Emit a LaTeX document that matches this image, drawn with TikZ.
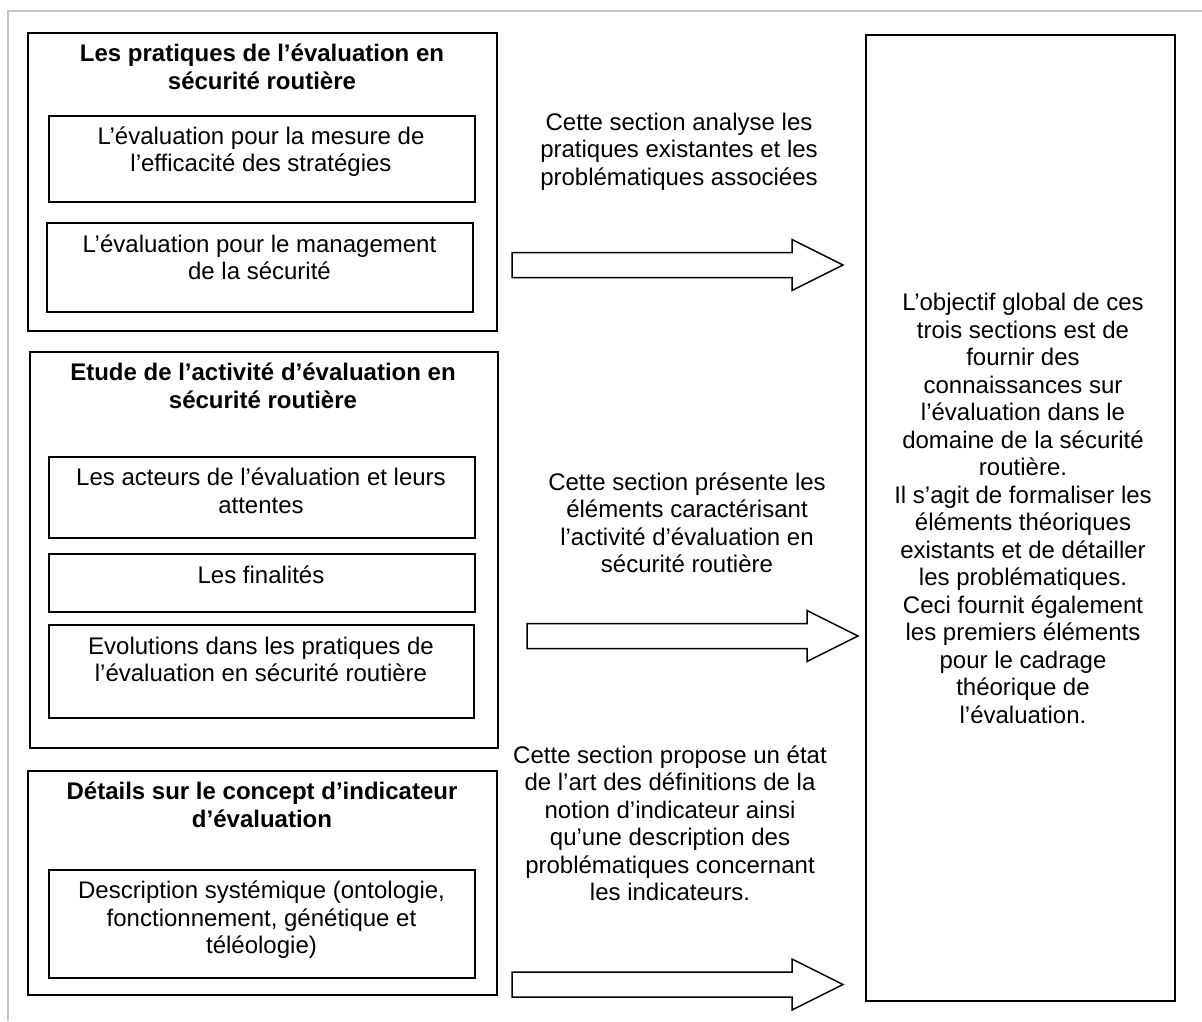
\documentclass[tikz,border=0pt]{standalone}
\usepackage{fontspec}
\setmainfont{Liberation Sans}
\usetikzlibrary{calc}
\begin{document}
\begin{tikzpicture}[x=1pt,y=-1pt,
  frame/.style={draw=black!22, line width=2pt},
  outerbox/.style={draw, line width=2pt, inner sep=0pt, anchor=north west},
  innerbox/.style={draw, line width=1.6pt, inner sep=0pt, anchor=north west},
  txt/.style={inner sep=0pt, align=center, font={\fontsize{24}{27.5}\selectfont},
    execute at begin node=\strut, execute at end node=\strut},
  ttl/.style={txt, font={\fontsize{24}{28}\selectfont\bfseries}},
  barrow/.style={draw, line width=1.5pt, fill=white, line join=miter}]
\useasboundingbox (0,0) rectangle (1202,1021);
\draw[frame] (8,1021) -- (8,11) -- (1202,11);

% boxes
\node[outerbox, minimum width=469pt, minimum height=298pt] (b1) at (27,32) {};
\node[innerbox, minimum width=426pt, minimum height=86pt] (b1a) at (48,115) {};
\node[innerbox, minimum width=426pt, minimum height=89pt] (b1b) at (46,222) {};
\node[outerbox, minimum width=468pt, minimum height=396pt] (b2) at (29,351) {};
\node[innerbox, minimum width=426pt, minimum height=81pt] (b2a) at (48,456) {};
\node[innerbox, minimum width=426pt, minimum height=58pt] (b2b) at (48,553) {};
\node[innerbox, minimum width=425pt, minimum height=93pt] (b2c) at (48,624) {};
\node[outerbox, minimum width=469pt, minimum height=224pt] (b3) at (27,770) {};
\node[innerbox, minimum width=426pt, minimum height=108pt] (b3a) at (48,869) {};
\node[outerbox, minimum width=309pt, minimum height=966pt] (R) at (865,34) {};

% texts in boxes
\node[ttl] (t1) at (262,71) {Les pratiques de l’évaluation en\\sécurité routière};
\node[txt] (t1a) at (261,153.5) {L’évaluation pour la mesure de\\l’efficacité des stratégies};
\node[txt] (t1b) at (259.5,261.5) {L’évaluation pour le management\\de la sécurité};
\node[ttl] (t2) at (263,389.5) {Etude de l’activité d’évaluation en\\sécurité routière};
\node[txt] (t2a) at (261,495) {Les acteurs de l’évaluation et leurs\\attentes};
\node[txt] (t2b) at (261,578) {Les finalités};
\node[txt] (t2c) at (261,663.5) {Evolutions dans les pratiques de\\l’évaluation en sécurité routière};
\node[ttl] (t3) at (262,809) {Détails sur le concept d’indicateur\\d’évaluation};
\node[txt] (t3a) at (261.5,921.5) {Description systémique (ontologie,\\fonctionnement, génétique et\\téléologie)};

% side texts
\node[txt] (s1) at (679,153) {Cette section analyse les\\pratiques existantes et les\\problématiques associées};
\node[txt] (s2) at (687,527) {Cette section présente les\\éléments caractérisant\\l’activité d’évaluation en\\sécurité routière};
\node[txt] (s3) at (670,827.5) {Cette section propose un état\\de l’art des définitions de la\\notion d’indicateur ainsi\\qu’une description des\\problématiques concernant\\les indicateurs.};
\node[txt] (rt) at (1023,512.5) {L’objectif global de ces\\trois sections est de\\fournir des\\connaissances sur\\l’évaluation dans le\\domaine de la sécurité\\routière.\\Il s’agit de formaliser les\\éléments théoriques\\existants et de détailler\\les problématiques.\\Ceci fournit également\\les premiers éléments\\pour le cadrage\\théorique de\\l’évaluation.};

% block arrows
\coordinate (a1) at (512,265);   \coordinate (a1h) at (843,265);
\coordinate (a2) at (527,636);   \coordinate (a2h) at (858,636);
\coordinate (a3) at (512,984.5); \coordinate (a3h) at (843,984.5);
\foreach \t/\h in {a1/a1h,a2/a2h,a3/a3h}{
  \draw[barrow] ($(\t)+(0,-12.5)$) -- ($(\h)+(-51,-12.5)$) -- ($(\h)+(-51,-25.5)$) -- (\h)
    -- ($(\h)+(-51,25.5)$) -- ($(\h)+(-51,12.5)$) -- ($(\t)+(0,12.5)$) -- cycle;
}
\end{tikzpicture}
\end{document}
